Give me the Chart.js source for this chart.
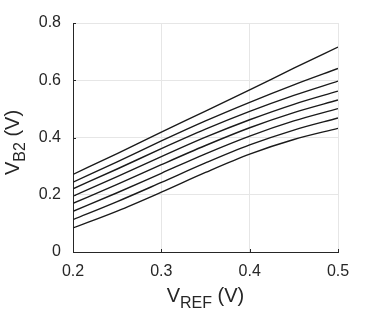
<!DOCTYPE html>
<html>
<head>
<meta charset="utf-8">
<script src="https://cdn.jsdelivr.net/npm/chart.js@4.4.0/dist/chart.umd.min.js"></script>
<style>
  html, body { margin: 0; padding: 0; background: #fff; }
  #wrap { width: 374px; height: 315px; position: relative; }
</style>
</head>
<body>
<div id="wrap"><canvas id="mainGraph" width="374" height="315"></canvas></div>
<script>
// V_REF sample points (V)
var vref = [0.2, 0.25, 0.3, 0.35, 0.4, 0.45, 0.5];

// V_B2 curves (V), top to bottom
var curve1 = [0.271, 0.344, 0.419, 0.492, 0.566, 0.642, 0.716];
var curve2 = [0.244, 0.315, 0.388, 0.458, 0.523, 0.584, 0.641];
var curve3 = [0.221, 0.290, 0.361, 0.429, 0.491, 0.547, 0.597];
var curve4 = [0.195, 0.263, 0.333, 0.401, 0.462, 0.516, 0.562];
var curve5 = [0.170, 0.236, 0.305, 0.372, 0.434, 0.487, 0.531];
var curve6 = [0.142, 0.207, 0.275, 0.343, 0.405, 0.458, 0.501];
var curve7 = [0.113, 0.176, 0.243, 0.311, 0.374, 0.426, 0.468];
var curve8 = [0.084, 0.143, 0.209, 0.278, 0.342, 0.393, 0.432];

var xTicks = [0.2, 0.3, 0.4, 0.5];
var yTicks = [0, 0.2, 0.4, 0.6, 0.8];

var curves = [curve1, curve2, curve3, curve4, curve5, curve6, curve7, curve8];
var FONT = "'Liberation Sans', Arial, Helvetica, sans-serif";

var datasets = curves.map(function (c) {
    return {
        data: c.map(function (v, i) { return { x: vref[i], y: v }; }),
        borderColor: '#1a1a1a',
        borderWidth: 1.4,
        pointRadius: 0,
        fill: false,
        cubicInterpolationMode: 'monotone'
    };
});

// axis titles with subscripts, drawn onto the canvas as text
var titlePlugin = {
    id: 'subTitles',
    afterDraw: function (chart) {
        var c = chart.ctx, a = chart.chartArea;
        function drawSub(main, sub, rest, x, y) {
            c.font = '20px ' + FONT;
            var w1 = c.measureText(main).width;
            c.font = '16px ' + FONT;
            var w2 = c.measureText(sub).width;
            c.font = '20px ' + FONT;
            var w3 = c.measureText(rest).width;
            var start = x - (w1 + w2 + w3) / 2;
            c.fillStyle = '#262626';
            c.textBaseline = 'alphabetic';
            c.textAlign = 'left';
            c.fillText(main, start, y);
            c.font = '16px ' + FONT;
            c.fillText(sub, start + w1, y + 6);
            c.font = '20px ' + FONT;
            c.fillText(rest, start + w1 + w2, y);
        }
        c.save();
        drawSub('V', 'REF', ' (V)', (a.left + a.right) / 2, 302);
        c.restore();
        c.save();
        c.translate(19, (a.top + a.bottom) / 2 + 5);
        c.rotate(-Math.PI / 2);
        drawSub('V', 'B2', ' (V)', 0, 0);
        c.restore();
        // inward tick marks
        c.save();
        c.strokeStyle = '#262626';
        c.lineWidth = 1;
        var xs = chart.scales.x, ys = chart.scales.y;
        xTicks.forEach(function (t) {
            var px = Math.round(xs.getPixelForValue(t)) + 0.5;
            c.beginPath(); c.moveTo(px, a.bottom); c.lineTo(px, a.bottom - 3); c.stroke();
        });
        yTicks.forEach(function (t) {
            var py = Math.round(ys.getPixelForValue(t)) + 0.5;
            c.beginPath(); c.moveTo(a.left, py); c.lineTo(a.left + 3, py); c.stroke();
        });
        c.restore();
    }
};

var ctx = document.getElementById('mainGraph').getContext('2d');
var chart = new Chart(ctx, {
    type: 'line',
    data: { datasets: datasets },
    options: {
        responsive: false,
        animation: false,
        layout: { padding: { left: 0, right: 36, top: 23, bottom: 0 } },
        plugins: { legend: { display: false }, tooltip: { enabled: false } },
        scales: {
            x: {
                type: 'linear',
                min: 0.2, max: 0.5,
                afterBuildTicks: function (s) { s.ticks = xTicks.map(function (v) { return { value: v }; }); },
                afterFit: function (s) { s.height = 63; },
                grid: { color: '#e6e6e6', lineWidth: 1, drawTicks: false },
                border: { color: '#262626', width: 1 },
                ticks: {
                    padding: 10,
                    color: '#262626',
                    font: { family: FONT, size: 16 },
                    maxRotation: 0,
                    callback: function (v) { return v.toFixed(1); }
                }
            },
            y: {
                type: 'linear',
                min: 0, max: 0.8,
                afterBuildTicks: function (s) { s.ticks = yTicks.map(function (v) { return { value: v }; }); },
                afterFit: function (s) { s.width = 73; },
                grid: { color: '#e6e6e6', lineWidth: 1, drawTicks: false },
                border: { color: '#262626', width: 1 },
                ticks: {
                    padding: 12,
                    color: '#262626',
                    font: { family: FONT, size: 16 },
                    callback: function (v) { return v === 0 ? '0' : v.toFixed(1); }
                }
            }
        }
    },
    plugins: [titlePlugin]
});
</script>
</body>
</html>
